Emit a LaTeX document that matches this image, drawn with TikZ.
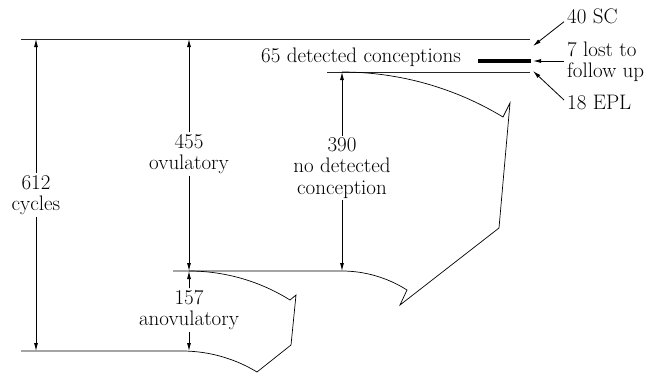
\documentclass[tikz,border=0pt]{standalone}
\usetikzlibrary{arrows.meta}
\begin{document}
\begin{tikzpicture}[x=1pt,y=-1pt,
  lbl/.style={font=\fontsize{21}{21.5}\selectfont, align=center, inner sep=1.5pt},
  rlbl/.style={font=\fontsize{21}{21}\selectfont, align=left, inner sep=1pt, anchor=west},
  edge/.style={line width=0.9pt, black!85},
  ribbon/.style={line width=0.7pt, line join=miter},
  dim/.style={line width=0.8pt, -{Latex[length=8pt,width=4pt]}},
  bar/.style={line width=4pt}]
\useasboundingbox (0,0) rectangle (649,373);

% reference points on the flow lines
\coordinate (topL) at (21,39);
\coordinate (topR) at (530,39);
\coordinate (concL) at (327,72);
\coordinate (concR) at (530,72);
\coordinate (midL) at (173,271);
\coordinate (botL) at (21,351);

% horizontal flow lines
\draw[edge] (topL) -- (topR);
\draw[edge] (concL) -- (concR);
\draw[bar] (478,61) coordinate (barL) -- (531,61) coordinate (barR);

% ovulatory cycles without a detected conception, bending away
\draw[ribbon] (midL) -- (342,271) coordinate (ndB)
  .. controls (364.9,271) and (387.7,277.7) .. (407,290)
  -- (400,305) -- (499,228) -- (510,103) -- (503,117)
  .. controls (454.4,87.6) and (398.8,72) .. (342,72) coordinate (ndT);

% anovulatory cycles, bending away
\draw[ribbon] (botL) -- (182,351)
  .. controls (208.4,351) and (234.5,358.3) .. (257,372)
  -- (291,345) -- (296,295) -- (290,300)
  .. controls (259.8,281.1) and (224.6,271) .. (189,271) coordinate (anT);

\coordinate (t612) at (36,39);
\coordinate (b612) at (36,351);
\coordinate (t455) at (189,39);
\coordinate (b455) at (189,271);
\coordinate (b157) at (189,351);
\coordinate (b390) at (342,271);

% labels
\node[lbl] (n612) at (36,195) {612\\cycles};
\node[lbl] (n455) at (189,154) {455\\ovulatory};
\node[lbl] (n390) at (342,168) {390\\no detected\\conception};
\node[lbl] (n157) at (189,310) {157\\anovulatory};
\node[lbl] (n65) at (361,57) {65 detected conceptions};

\node[rlbl] (sc) at (566,16) {40 SC};
\node[rlbl] (lost) at (566,62) {7 lost to\\follow up};
\node[rlbl] (epl) at (566,102) {18 EPL};

% dimension arrows
\draw[dim] (n612.north) -- (t612);
\draw[dim] (n612.south) -- (b612);
\draw[dim] (n455.north) -- (t455);
\draw[dim] (n455.south) -- (b455);
\draw[dim] (n390.north) -- (ndT);
\draw[dim] (n390.south) -- (b390);
\draw[dim] (n157.north) -- (b455);
\draw[dim] (n157.south) -- (b157);

% outcome arrows
\coordinate (aSC) at (533,46);
\coordinate (aLost) at (533,61);
\coordinate (aEPL) at (533,71);
\draw[dim] (sc.south west) ++(-2,-3) -- (aSC);
\draw[dim] (lost.west) ++(-2,-1) -- (aLost);
\draw[dim] (epl.west) ++(-2,-2) -- (aEPL);
\end{tikzpicture}
\end{document}
